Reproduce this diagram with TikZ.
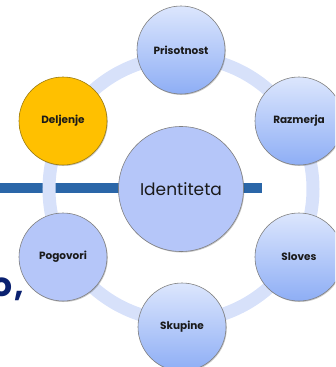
\documentclass[tikz,border=0pt]{standalone}
\usepackage{fontspec}
\setmainfont{Poppins}
\usetikzlibrary{shadows}
\begin{document}
\begin{tikzpicture}[x=1pt,y=-1pt,
  every node/.style={font=\color{labeltext}},
  softshadow/.style={drop shadow={shadow xshift=0.8pt, shadow yshift=-1pt, opacity=0.22, fill=black}},
  petal/.style={circle, draw=rimgray, line width=0.6pt, inner sep=0pt,
    minimum size=88pt, top color=petaltop, bottom color=petalbot, softshadow,
    font=\fontsize{10.5}{11}\bfseries\selectfont\color{labeltext}},
  flatpetal/.style={petal, top color=hubfill, bottom color=hubfill},
  hubstyle/.style={circle, draw=rimgray, line width=0.6pt, inner sep=0pt,
    minimum size=125pt, fill=hubfill, softshadow,
    font=\fontsize{17}{18}\selectfont\color{labeltext}},
  hotpetal/.style={petal, top color=gold, bottom color=gold, draw=golddark}]
\definecolor{labeltext}{HTML}{1A1A1A}
\definecolor{rimgray}{HTML}{808080}
\definecolor{petaltop}{HTML}{DCE6FD}
\definecolor{petalbot}{HTML}{8EAEF5}
\definecolor{hubfill}{HTML}{B5C6F9}
\definecolor{gold}{HTML}{FFC000}
\definecolor{golddark}{HTML}{9A7A10}
\definecolor{ringfill}{HTML}{D7E1FA}
\definecolor{barblue}{HTML}{2A66A8}
\definecolor{navy}{HTML}{0A2170}

\useasboundingbox (0,0) rectangle (335,367);
\clip (0,0) rectangle (335,367);

% slide background pieces
\fill[barblue] (0,183) rectangle (262,193);
\node[anchor=base west, inner sep=0pt, font=\fontsize{33}{33}\bfseries\selectfont\color{navy}] (tail) at (-9,296) {o\kern2pt,};

% ring behind the petals
\coordinate (mid) at (181,189);
\draw[ringfill, line width=13pt] (mid) circle[radius=132];

% hub
\node[hubstyle] (hub) at (mid) {Identiteta};

% petals around the ring
\node[petal]     (pris) at (181,50)  {Prisotnost};
\node[petal]     (razm) at (299,121) {Razmerja};
\node[petal]     (slov) at (299,257) {Sloves};
\node[petal]     (skup) at (182,327) {Skupine};
\node[flatpetal] (pogo) at (63,257)  {Pogovori};
\node[hotpetal]  (delj) at (63,121)  {Deljenje};
\end{tikzpicture}
\end{document}
